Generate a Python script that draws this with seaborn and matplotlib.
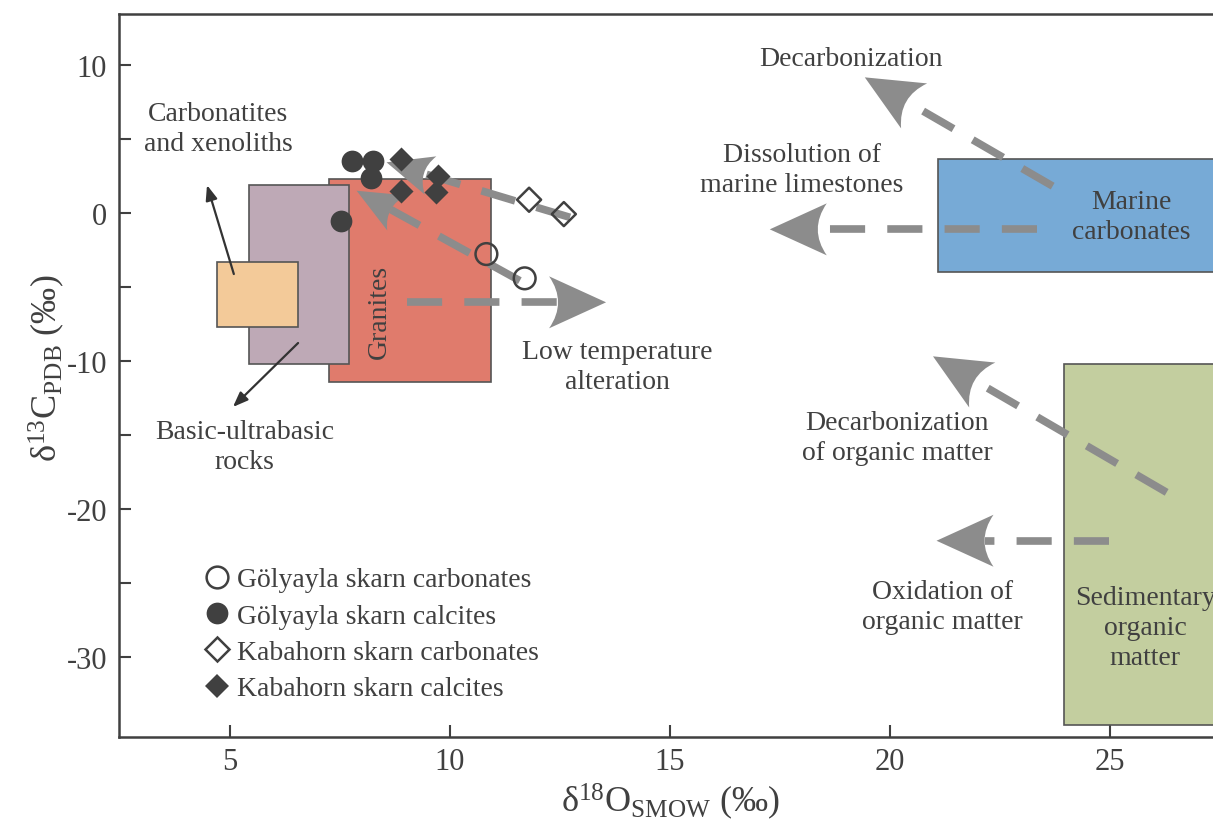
import numpy as np
import matplotlib
matplotlib.use("Agg")
import matplotlib.pyplot as plt
import seaborn as sns
import pandas as pd
from matplotlib.path import Path
from matplotlib.patches import PathPatch, Rectangle
from matplotlib.transforms import Affine2D, ScaledTranslation
from matplotlib.lines import Line2D

# ---------------- data ----------------
gol_carb_x = [10.83, 11.70]
gol_carb_y = [-2.77, -4.41]
gol_calc_x = [7.77, 8.25, 8.20, 7.52]
gol_calc_y = [3.53, 3.53, 2.34, -0.56]
kab_carb_x = [11.80, 12.59]
kab_carb_y = [0.90, -0.07]
kab_calc_x = [8.90, 9.73, 8.90, 9.68]
kab_calc_y = [3.65, 2.52, 1.51, 1.40]

series_names = ["Gölyayla skarn carbonates", "Gölyayla skarn calcites",
                "Kabahorn skarn carbonates", "Kabahorn skarn calcites"]

# field boxes: (x0, x1, y0, y1, colour)
box_names = ["Granites", "Basic-ultrabasic rocks", "Carbonatites and xenoliths",
             "Marine carbonates", "Sedimentary organic matter"]
box_x0 = [7.25, 5.43, 4.70, 21.09, 23.95]
box_x1 = [10.93, 7.70, 6.55, 29.0, 29.0]
box_y0 = [-11.42, -10.20, -7.70, -3.99, -34.6]
box_y1 = [2.30, 1.89, -3.31, 3.65, -10.20]
box_colors = ["#E07B6C", "#BEA9B6", "#F3CA99", "#77AAD6", "#C3CE9F"]

# process arrows: tail -> tip (data units)
arrow_tail = [(23.70, 1.82), (23.34, -1.10), (9.02, -6.03), (26.29, -18.87),
              (24.98, -22.14), (11.59, -4.57), (12.73, -0.29)]
arrow_tip = [(19.43, 9.17), (17.27, -1.10), (13.55, -6.03), (20.98, -9.68),
             (21.06, -22.14), (7.88, 1.51), (8.56, 3.43)]
arrow_big = [True, True, True, True, True, False, False]

# thin black arrows
thin_tail = [(5.09, -4.12), (6.55, -8.78)]
thin_tip = [(4.48, 1.89), (5.07, -13.1)]

# text labels
label_texts = ["Carbonatites\nand xenoliths", "Basic-ultrabasic\nrocks",
               "Low temperature\nalteration", "Decarbonization",
               "Dissolution of\nmarine limestones", "Marine\ncarbonates",
               "Decarbonization\nof organic matter", "Oxidation of\norganic matter",
               "Sedimentary\norganic\nmatter"]
label_x = [4.73, 5.34, 13.8, 19.11, 18.0, 25.48, 20.16, 21.2, 25.8]
label_y = [5.74, -15.78, -10.37, 10.41, 2.94, -0.25, -15.17, -26.6, -28.0]

xticks = [5, 10, 15, 20, 25]
yticks = [-30, -20, -10, 0, 10]
yminor = [-25, -15, -5, 5]

# ---------------- style ----------------
sns.set_style("ticks")
plt.rcParams["font.family"] = ["Liberation Serif", "DejaVu Serif"]
plt.rcParams["mathtext.fontset"] = "custom"
plt.rcParams["mathtext.rm"] = "Liberation Serif"
plt.rcParams["mathtext.it"] = "Liberation Serif:italic"
plt.rcParams["mathtext.bf"] = "Liberation Serif:bold"

dark = "#404040"
grey = "#8C8C8C"

fig = plt.figure(figsize=(12.13, 8.20), dpi=100)
W, H = 1213, 820
xlim = (2.48, 28.0)
ylim = (-35.4, 13.45)
left_px, top_px, bottom_px = 119, 15, 738
right_px = left_px + (xlim[1] - xlim[0]) * 44.0
ax = fig.add_axes([left_px / W, 1 - bottom_px / H, (right_px - left_px) / W,
                   (bottom_px - top_px) / H])
ax.set_xlim(*xlim)
ax.set_ylim(*ylim)
ax.set_autoscale_on(False)

for s in ["left", "top", "bottom"]:
    ax.spines[s].set_color(dark)
    ax.spines[s].set_linewidth(1.8)
ax.spines["right"].set_visible(False)

ax.set_xticks(xticks)
ax.set_yticks(yticks)
ax.set_yticks(yminor, minor=True)
ax.tick_params(axis="both", which="both", direction="in", length=8.5, width=1.5,
               color=dark, labelcolor=dark, labelsize=22)
ax.tick_params(axis="y", which="both", pad=8.5)
ax.tick_params(axis="x", which="both", pad=7)
ax.set_yticklabels([str(v) for v in yticks])

# boxes
for x0, x1, y0, y1, c in zip(box_x0, box_x1, box_y0, box_y1, box_colors):
    ax.add_patch(Rectangle((x0, y0), x1 - x0, y1 - y0, facecolor=c,
                           edgecolor="#555555", linewidth=1.2, zorder=1))

ax.text(8.39, -6.62, "Granites", rotation=90, ha="center", va="center",
        fontsize=20, color=dark, zorder=2)

# text labels
for t, x, y in zip(label_texts, label_x, label_y):
    ax.text(x, y, t, ha="center", va="center", fontsize=20, color=dark,
            linespacing=1.27, zorder=2)

# arrows
def head_path(L, Wd, notch):
    verts = [(0, 0), (-L, Wd / 2), (-L + 2 * notch, 0), (-L, -Wd / 2), (0, 0)]
    codes = [Path.MOVETO, Path.LINETO, Path.CURVE3, Path.CURVE3, Path.CLOSEPOLY]
    return Path(verts, codes)

inv = ax.transData.inverted()
for tail, tip, big in zip(arrow_tail, arrow_tip, arrow_big):
    L, Wd, notch = (57, 52, 9) if big else (46, 40, 7)
    pt = ax.transData.transform(tail)
    pp = ax.transData.transform(tip)
    d = pp - pt
    theta = np.arctan2(d[1], d[0])
    u = d / np.hypot(*d)
    end = inv.transform(pp - u * (L - notch))
    ax.plot([tail[0], end[0]], [tail[1], end[1]], color=grey, lw=5.5,
            dashes=(4.6, 2.9), solid_capstyle="butt", dash_capstyle="butt", zorder=3)
    tr = Affine2D().rotate(theta) + ScaledTranslation(tip[0], tip[1], ax.transData)
    ax.add_patch(PathPatch(head_path(L, Wd, notch), transform=tr, facecolor=grey,
                           edgecolor="none", zorder=3))

for tail, tip in zip(thin_tail, thin_tip):
    ax.annotate("", xy=tip, xytext=tail,
                arrowprops=dict(arrowstyle="-|>,head_length=0.9,head_width=0.35",
                                color="#333333", lw=1.6, shrinkA=0, shrinkB=0),
                zorder=3)

# points
ms_o = 245
ms_d = 150
sns.scatterplot(x=gol_carb_x, y=gol_carb_y, marker="o", s=ms_o, facecolor="none",
                edgecolor=dark, linewidth=1.8, ax=ax, zorder=5)
sns.scatterplot(x=gol_calc_x, y=gol_calc_y, marker="o", s=ms_o, color=dark,
                edgecolor=dark, linewidth=0, ax=ax, zorder=5)
sns.scatterplot(x=kab_carb_x, y=kab_carb_y, marker="D", s=ms_d, facecolor="none",
                edgecolor=dark, linewidth=1.8, ax=ax, zorder=5)
sns.scatterplot(x=kab_calc_x, y=kab_calc_y, marker="D", s=ms_d, color=dark,
                edgecolor=dark, linewidth=0, ax=ax, zorder=5)

handles = [
    Line2D([], [], ls="none", marker="o", ms=np.sqrt(ms_o), mfc="none", mec=dark, mew=1.8),
    Line2D([], [], ls="none", marker="o", ms=np.sqrt(ms_o), mfc=dark, mec=dark, mew=0),
    Line2D([], [], ls="none", marker="D", ms=np.sqrt(ms_d), mfc="none", mec=dark, mew=1.8),
    Line2D([], [], ls="none", marker="D", ms=np.sqrt(ms_d), mfc=dark, mec=dark, mew=0),
]
leg = ax.legend(handles, series_names, loc="upper left",
                bbox_to_anchor=((206 - left_px) / (right_px - left_px),
                                (bottom_px - 568) / (bottom_px - top_px)),
                frameon=False, fontsize=20, handlelength=0.8, handletextpad=0.32,
                labelspacing=0.39, borderpad=0, borderaxespad=0)
for t in leg.get_texts():
    t.set_color(dark)

ax.set_xlabel("δ$^{18}$O$_{\\mathrm{SMOW}}$ (‰)", fontsize=26, color=dark)
ax.set_ylabel("δ$^{13}$C$_{\\mathrm{PDB}}$ (‰)", fontsize=26, color=dark)
ax.xaxis.set_label_coords((670 - left_px) / (right_px - left_px), -0.06)
ax.xaxis.label.set_va("top")
ax.yaxis.set_label_coords(-0.046, (bottom_px - 368) / (bottom_px - top_px))

fig.savefig("out.png", dpi=100)
